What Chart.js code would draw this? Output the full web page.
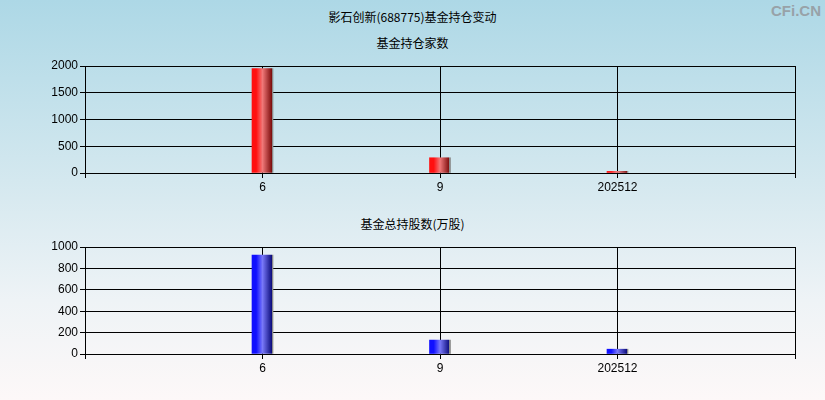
<!DOCTYPE html>
<html>
<head>
    <title>影石创新(688775)基金持仓变动</title>
    <script src="https://cdn.jsdelivr.net/npm/chart.js"></script>
    <style>
        html, body { margin: 0; padding: 0; }
        body {
            width: 825px; height: 400px; position: relative; overflow: hidden;
            background: linear-gradient(to bottom, #add8e6 0%, #d4e8ef 45%, #eef3f6 75%, #fdf8f8 100%);
            font-family: "Noto Sans CJK SC", sans-serif;
        }
        .title { position: absolute; left: 0; width: 825px; text-align: center; font-size: 12px; color: #000; line-height: 14px; }
        #logo { position: absolute; right: 4px; top: 2px; font-family: "Liberation Sans", Arial, sans-serif; font-size: 15px; font-weight: bold; color: #98a2a8; }
        .box { position: absolute; left: 0; width: 825px; height: 200px; }
    </style>
</head>
<body>
    <div id="logo">CFi.CN</div>
    <div class="title" style="top:10px">影石创新(688775)基金持仓变动</div>
    <div class="title" style="top:36px">基金持仓家数</div>
    <div class="title" style="top:217px">基金总持股数(万股)</div>

    <div class="box" style="top:0"><canvas id="chart1" width="825" height="200"></canvas></div>
    <div class="box" style="top:200px"><canvas id="chart2" width="825" height="200"></canvas></div>

    <script>
        // 数据
        const categories = ['', '6', '9', '202512', ''];
        const fundCount = [null, 1950, 285, 30, null];
        const fundShares = [null, 925, 130, 45, null];
        const countTicks = [0, 500, 1000, 1500, 2000];
        const shareTicks = [0, 200, 400, 600, 800, 1000];

        function barGradient(colors) {
            return (context) => {
                const chart = context.chart;
                const xs = chart.scales.x;
                if (!chart.chartArea || !xs) return colors[1];
                const cx = xs.getPixelForValue(context.dataIndex);
                const g = chart.ctx.createLinearGradient(cx - 10.5, 0, cx + 10.5, 0);
                g.addColorStop(0, colors[0]);
                g.addColorStop(0.2, colors[0]);
                g.addColorStop(0.5, colors[1]);
                g.addColorStop(0.93, colors[2]);
                g.addColorStop(0.95, '#8a8a8a');
                g.addColorStop(1, '#8a8a8a');
                return g;
            };
        }

        function makeChart(id, values, ticks, colors, padTop, padBottom) {
            return new Chart(document.getElementById(id), {
                type: 'bar',
                data: {
                    labels: categories,
                    datasets: [{
                        data: values,
                        backgroundColor: barGradient(colors),
                        barThickness: 21,
                        borderWidth: 0
                    }]
                },
                options: {
                    responsive: false,
                    animation: false,
                    layout: { padding: { top: padTop, right: 30, left: 0, bottom: padBottom } },
                    plugins: { legend: { display: false }, tooltip: { enabled: false } },
                    scales: {
                        x: {
                            offset: false,
                            grid: { offset: false, color: '#000', lineWidth: 1, tickLength: 5, drawOnChartArea: true },
                            border: { color: '#000' },
                            ticks: {
                                autoSkip: false, maxRotation: 0, color: '#000', padding: 2,
                                font: { family: '"Liberation Sans", Arial, sans-serif', size: 12 }
                            },
                            afterFit: (s) => { s.height = 27; }
                        },
                        y: {
                            min: ticks[0],
                            max: ticks[ticks.length - 1],
                            afterBuildTicks: (s) => { s.ticks = ticks.map(v => ({ value: v })); },
                            grid: { color: '#000', lineWidth: 1, tickLength: 5 },
                            border: { color: '#000' },
                            ticks: {
                                color: '#000', padding: 2,
                                callback: (v) => String(v),
                                font: { family: '"Liberation Sans", Arial, sans-serif', size: 12 }
                            },
                            afterFit: (s) => { s.width = 85; }
                        }
                    }
                }
            });
        }

        makeChart('chart1', fundCount, countTicks, ['#ff1010', '#f07878', '#801010'], 66, 0);
        makeChart('chart2', fundShares, shareTicks, ['#1010ff', '#7878f8', '#101080'], 47, 19);
    </script>
</body>
</html>
